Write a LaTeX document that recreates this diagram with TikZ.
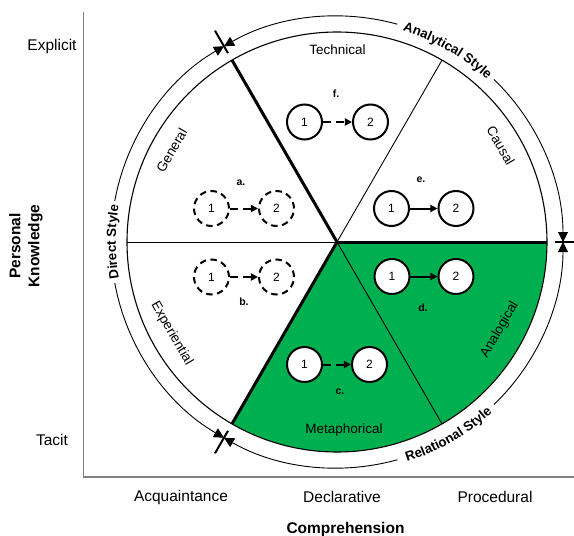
\documentclass[tikz,border=0pt]{standalone}
\usepackage{fontspec}
\setmainfont{Liberation Sans}
\usetikzlibrary{arrows.meta,decorations.text}

\definecolor{sectorgreen}{RGB}{0,176,80}
\definecolor{axisgray}{RGB}{128,128,128}

\newcommand\axisfont{\fontsize{15.5}{19}\selectfont}
\newcommand\sectorfont{\fontsize{13.5}{16}\selectfont}
\newcommand\stylefont{\fontsize{13.3}{16}\selectfont\bfseries}
\newcommand\numfont{\fontsize{12}{14}\selectfont}
\newcommand\tagfont{\fontsize{10.5}{12}\selectfont\bfseries}

\def\Ri{210}
\def\Ro{226}

\begin{document}
\begin{tikzpicture}[x=1pt,y=1pt,
  axisline/.style={draw=axisgray,line width=1.5pt},
  rim/.style={line width=1.1pt},
  spoke/.style={line width=0.9pt},
  heavyspoke/.style={line width=3pt},
  ring/.style={line width=0.9pt},
  ringtip/.style={-{Triangle[length=10pt,width=10pt]}},
  tickmark/.style={line width=2pt},
  axislabel/.style={font=\axisfont,inner sep=0pt},
  sectorlabel/.style={font=\sectorfont,inner sep=0pt},
  concept/.style={circle,draw,line width=2pt,fill=white,minimum size=35pt,inner sep=0pt,font=\numfont},
  vague/.style={concept,dash pattern=on 6.5pt off 4.5pt},
  tag/.style={font=\tagfont,inner sep=0pt},
  link/.style={line width=2pt,-{Triangle[length=7pt,width=7pt]}},
  looselink/.style={link,dash pattern=on 8pt off 5pt},
  arctext/.style={decorate,decoration={text along path,text align=center,text={|\stylefont|#1}}}
]
\useasboundingbox (-337,-294) rectangle (237,242);

% axes
\coordinate (ytop) at (-253.5,230);
\coordinate (yorig) at (-253.5,-235);
\coordinate (xend) at (237,-235);
\draw[axisline] (ytop) -- (yorig) -- (xend);

\node[axislabel] (explicit) at (-285,196) {Explicit};
\node[axislabel] (tacit) at (-285,-198) {Tacit};
\node[axislabel,font=\axisfont\bfseries,align=center,rotate=90] (personal) at (-311,-4) {Personal\\Knowledge};
\node[axislabel] (acq) at (-156,-255) {Acquaintance};
\node[axislabel] (decl) at (5,-255) {Declarative};
\node[axislabel] (proc) at (158,-255) {Procedural};
\node[axislabel,font=\axisfont\bfseries] (compr) at (8.5,-287) {Comprehension};

% pie
\coordinate (O) at (0,0);
\fill[sectorgreen] (O) -- (240:\Ri) arc[start angle=240,end angle=360,radius=\Ri] -- cycle;
\draw[rim] (O) circle[radius=\Ri];
\foreach \a in {60,180,300} \draw[spoke] (O) -- (\a:\Ri);
\foreach \a in {0,120,240} \draw[heavyspoke] (O) -- (\a:\Ri);

% outer ring with style boundaries
\draw[ring,{Triangle[length=10pt,width=10pt]}-] (0:\Ro) arc[start angle=0,end angle=46,radius=\Ro];
\draw[ring,ringtip] (74.5:\Ro) arc[start angle=74.5,end angle=120,radius=\Ro];
\draw[ring,{Triangle[length=10pt,width=10pt]}-] (120:\Ro) arc[start angle=120,end angle=169.5,radius=\Ro];
\draw[ring,ringtip] (190.5:\Ro) arc[start angle=190.5,end angle=240,radius=\Ro];
\draw[ring,{Triangle[length=10pt,width=10pt]}-] (240:\Ro) arc[start angle=240,end angle=285.5,radius=\Ro];
\draw[ring,ringtip] (314:\Ro) arc[start angle=314,end angle=360,radius=\Ro];
\foreach \a in {0,120,240} \draw[tickmark] (\a:218) -- (\a:244);

\path[arctext={Analytical Style}] (85:221.2) arc[start angle=85,end angle=35,radius=221.2];
\path[arctext={Direct Style}] (205:221.2) arc[start angle=205,end angle=155,radius=221.2];
\path[arctext={Relational Style}] (275:230.8) arc[start angle=275,end angle=325,radius=230.8];

% sector names
\node[sectorlabel] (technical) at (0.5,192) {Technical};
\node[sectorlabel,rotate=-60] (causal) at (30.5:190) {Causal};
\node[sectorlabel,rotate=60] (general) at (151:189) {General};
\node[sectorlabel,rotate=-60] (experiential) at (209:189) {Experiential};
\node[sectorlabel] (metaphorical) at (7,-188) {Metaphorical};
\node[sectorlabel,rotate=60] (analogical) at (-28.4:185) {Analogical};

% concept pairs
\node[vague] (a1) at (-125.5,33.5) {1};
\node[vague] (a2) at (-60.5,33.5) {2};
\node[tag] (alab) at (-96,59) {a.};
\draw[looselink] (a1) -- (a2);

\node[vague] (b1) at (-125.5,-35) {1};
\node[vague] (b2) at (-60.5,-35) {2};
\node[tag] (blab) at (-93,-60) {b.};
\draw[looselink] (b1) -- (b2);

\node[concept] (c1) at (-32.5,-122.5) {1};
\node[concept] (c2) at (32.5,-122.5) {2};
\node[tag] (clab) at (3,-150) {c.};
\draw[looselink] (c1) -- (c2);

\node[concept] (d1) at (55,-34.5) {1};
\node[concept] (d2) at (119,-34.5) {2};
\node[tag] (dlab) at (86,-66) {d.};
\draw[link] (d1) -- (d2);

\node[concept] (e1) at (54.5,33.5) {1};
\node[concept] (e2) at (119,33.5) {2};
\node[tag] (elab) at (84,62) {e.};
\draw[link] (e1) -- (e2);

\node[concept] (f1) at (-32.5,120) {1};
\node[concept] (f2) at (33.5,120) {2};
\node[tag] (flab) at (-1,148) {f.};
\draw[looselink] (f1) -- (f2);
\end{tikzpicture}
\end{document}
